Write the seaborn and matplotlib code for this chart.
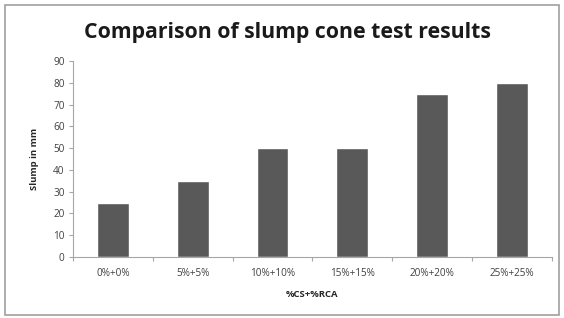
import numpy as np
import pandas as pd
import seaborn as sns
from matplotlib import pyplot as plt
from matplotlib.patches import Rectangle

# ------- data -------
mixes = ["0%+0%", "5%+5%", "10%+10%", "15%+15%", "20%+20%", "25%+25%"]
slump = [25, 35, 50, 50, 75, 80]
yticks = list(range(0, 100, 10))
# --------------------

sns.set_style("white")
plt.rcParams['font.family'] = ['Open Sans', 'DejaVu Sans']

df = pd.DataFrame({"mix": mixes, "slump": slump})

fig = plt.figure(figsize=(5.64, 3.18), dpi=100)
ax = fig.add_axes([0.1294, 0.192, 0.849, 0.616])

sns.barplot(data=df, x="mix", y="slump", color="#595959", saturation=1,
            width=0.4, ax=ax)

ax.set_xlim(-0.5, len(mixes) - 0.5)
ax.set_ylim(0, 90)
ax.set_yticks(yticks)

axis_col = "#a6a6a6"
for s in ["top", "right"]:
    ax.spines[s].set_visible(False)
for s in ["left", "bottom"]:
    ax.spines[s].set_color(axis_col)
    ax.spines[s].set_linewidth(0.8)

ax.tick_params(axis="y", left=True, length=3, color=axis_col, width=0.8,
               labelsize=7.2, labelcolor="#404040", pad=3)
ax.tick_params(axis="x", bottom=False, length=0, labelsize=7.2,
               labelcolor="#404040", pad=8)
ax.set_xticks(np.arange(-0.5, len(mixes)), minor=True)
ax.tick_params(axis="x", which="minor", bottom=True, length=3,
               color=axis_col, width=0.8)

ax.set_xlabel("%CS+%RCA", fontsize=6.8, fontweight="bold", labelpad=8)
ax.set_ylabel("Slump in mm", fontsize=6.8, fontweight="bold", labelpad=10)

fig.text(0.51, 0.897, "Comparison of slump cone test results",
         ha="center", va="center", fontsize=15.3, fontweight="bold",
         color="#1a1a1a")

fig.patches.append(Rectangle((0.009, 0.01), 0.982, 0.975,
                             transform=fig.transFigure, fill=False,
                             edgecolor="#a0a0a0", linewidth=1.2))

fig.savefig("out.png", dpi=100)
